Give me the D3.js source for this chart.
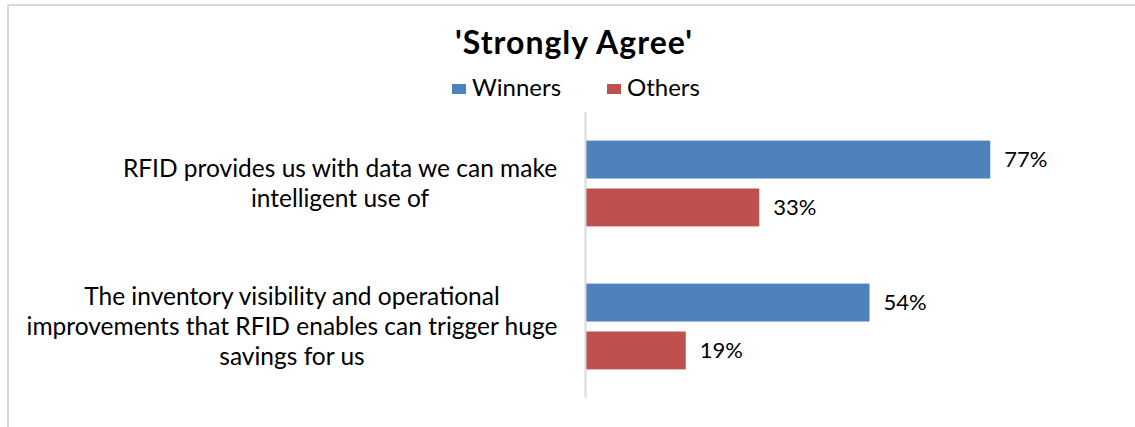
<!DOCTYPE html>
<html>
<head>
<meta charset="utf-8">
<script src="https://cdn.jsdelivr.net/npm/d3@7"></script>
<style>
  body { margin: 0; background: #ffffff; }
  text { font-family: Lato, "Open Sans", sans-serif; fill: #000000; }
</style>
</head>
<body>
<div id="chart"></div>
<script>
//
// Data
//
var categories = [
  "RFID provides us with data we can make intelligent use of",
  "The inventory visibility and operational improvements that RFID enables can trigger huge savings for us"
];
var labelLines = [
  ["RFID provides us with data we can make", "intelligent use of"],
  ["The inventory visibility and operational", "improvements that RFID enables can trigger huge", "savings for us"]
];
var seriesNames = ["Winners", "Others"];
var winners = [77, 54];
var others = [33, 19];
var chartTitle = "'Strongly Agree'";

//
// layout
//
var W = 1135, H = 427;
var colors = {"Winners": "#4f81bd", "Others": "#c0504d"};
var labelCenterX = [340, 292];

var svg = d3.select("#chart").append("svg")
  .attr("width", W)
  .attr("height", H);

// outer frame of the chart (only top and left are in view)
svg.append("path")
  .attr("d", "M8,431 L8,5 L1140,5")
  .attr("fill", "none")
  .attr("stroke", "#d9d9d9")
  .attr("stroke-width", 2);

//
// scales
//
var x = d3.scaleLinear().domain([0, 100]).range([586, 1111]);
var y0 = d3.scaleBand().domain(categories).range([112, 398]).padding(0);
var bw = y0.bandwidth();
var y1 = d3.scaleBand().domain(seriesNames)
  .range([bw * 0.2, bw * 0.8])
  .paddingInner(10 / 48);

var rows = categories.map(function(c, i) {
  return {cat: c, lines: labelLines[i], cx: labelCenterX[i],
          vals: [{s: "Winners", v: winners[i]}, {s: "Others", v: others[i]}]};
});

//
// bars
//
var g = svg.selectAll(".cat")
  .data(rows)
  .enter().append("g")
  .attr("class", "cat")
  .attr("transform", function(d) { return "translate(0," + y0(d.cat) + ")"; });

g.selectAll("rect")
  .data(function(d) { return d.vals; })
  .enter().append("rect")
  .attr("x", x(0))
  .attr("y", function(d) { return y1(d.s); })
  .attr("width", function(d) { return x(d.v) - x(0); })
  .attr("height", y1.bandwidth())
  .attr("fill", function(d) { return colors[d.s]; });

g.selectAll(".val")
  .data(function(d) { return d.vals; })
  .enter().append("text")
  .attr("class", "val")
  .attr("x", function(d) { return x(d.v) + 14; })
  .attr("y", function(d) { return y1(d.s) + y1.bandwidth() / 2; })
  .attr("dy", "0.36em")
  .style("font-size", "22px")
  .text(function(d) { return d.v + "%"; });

//
// category labels
//
g.each(function(d) {
  var n = d.lines.length;
  var t = d3.select(this).append("text")
    .attr("text-anchor", "middle")
    .style("font-size", "24.5px");
  d.lines.forEach(function(line, k) {
    t.append("tspan")
      .attr("x", d.cx)
      .attr("y", bw / 2 + (k - (n - 1) / 2) * 30)
      .attr("dy", "0.36em")
      .text(line);
  });
});

// vertical axis line
svg.append("line")
  .attr("x1", x(0) - 0.5).attr("x2", x(0) - 0.5)
  .attr("y1", y0.range()[0]).attr("y2", y0.range()[1])
  .attr("stroke", "#d9d9d9")
  .attr("stroke-width", 2);

//
// title and legend
//
svg.append("text")
  .attr("x", 574)
  .attr("y", 54)
  .attr("text-anchor", "middle")
  .style("font-size", "32px")
  .style("font-weight", "bold")
  .style("letter-spacing", "1px")
  .text(chartTitle);

var legendX = [452, 607];
var lg = svg.selectAll(".legend")
  .data(seriesNames)
  .enter().append("g")
  .attr("class", "legend")
  .attr("transform", function(d, i) { return "translate(" + legendX[i] + ",84)"; });

lg.append("rect")
  .attr("width", 14)
  .attr("height", 10)
  .attr("fill", function(d) { return colors[d]; });

lg.append("text")
  .attr("x", 20)
  .attr("y", 12)
  .style("font-size", "24px")
  .text(function(d) { return d; });
</script>
</body>
</html>
